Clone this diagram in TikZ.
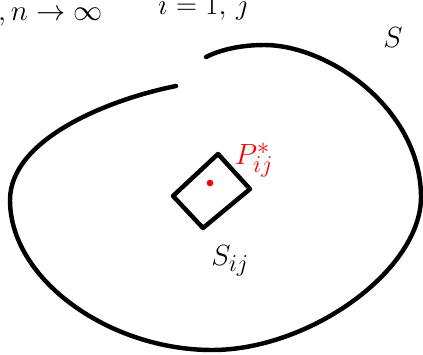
\documentclass[tikz,border=0pt]{standalone}
\usetikzlibrary{positioning, calc}

\begin{document}
\begin{tikzpicture}[x=0.03cm, y=-0.03cm,
    stroke/.style={line width=3.8pt, line cap=round, line join=round},
    toptxt/.style={anchor=base west, inner sep=0pt, font=\fontsize{24}{24}\selectfont},
    redlbl/.style={text=red, font=\fontsize{32}{32}\selectfont},
    blklbl/.style={text=black, font=\fontsize{32}{32}\selectfont}]

  \useasboundingbox (0,0) rectangle (423,354);

  % text cut off at the top edge
  \begin{scope}
    \clip (0,0) rectangle (423,354);
    \node[toptxt] (limTxt) at (-2,20) {$,n\to\infty$};
    \node[toptxt] (idxTxt) at (158,14) {$i=1,\,j$};
  \end{scope}

  % outer region S
  \coordinate (sStart) at (176,86);
  \coordinate (sEnd)   at (206,57);
  \draw[stroke] (sStart) .. controls (106,100) and (10,140) .. (10,200)
    .. controls (10,280) and (110,350) .. (212,350)
    .. controls (310,350) and (421,270) .. (421,197)
    .. controls (421,110) and (330,45) .. (264,45)
    .. controls (240,45) and (220,50) .. (sEnd);
  \node[blklbl, font=\fontsize{42}{42}\selectfont] (sLbl) at (393,38) {$S$};

  % cell S_ij
  \coordinate (cL) at (173,196);
  \coordinate (cT) at (218,154);
  \coordinate (cR) at (250,189);
  \coordinate (cB) at (203,228);
  \draw[stroke] (cL) -- (cT) -- (cR) -- (cB) -- cycle;
  \node[blklbl] (cellLbl) at (230,261) {$S_{ij}$};

  % point P*_ij
  \fill[red] (210,183) circle (2.8pt);
  \node[redlbl] (pLbl) at (254,160) {$P^{*}_{ij}$};
\end{tikzpicture}
\end{document}
